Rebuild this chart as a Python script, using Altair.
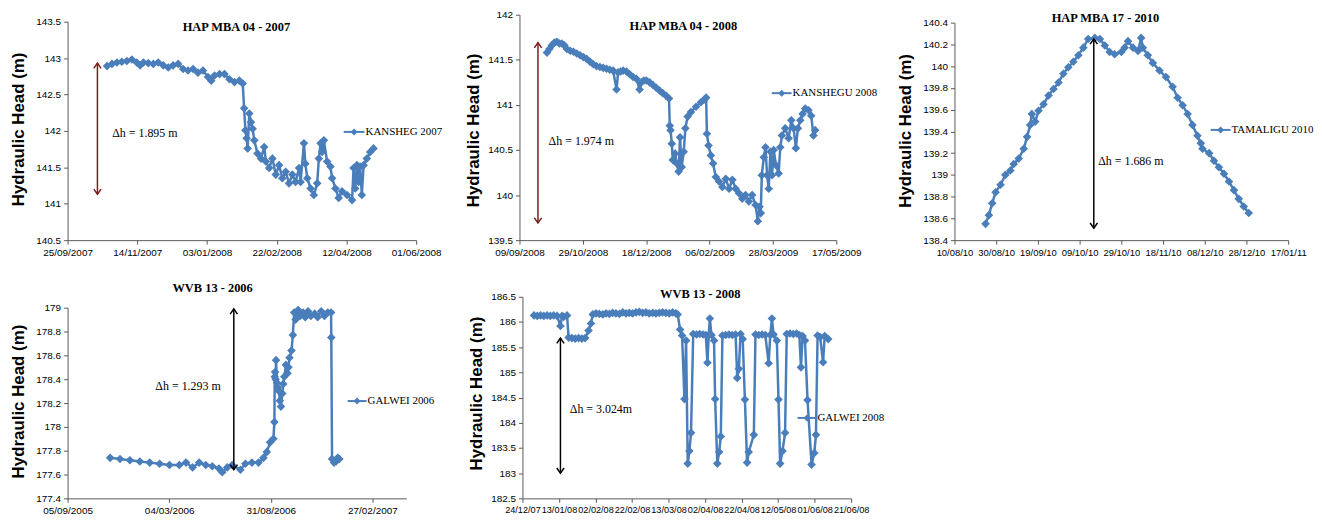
import altair as alt
import pandas as pd

BLUE = "#4A7EBB"
DARKRED = "#7A1E1E"
SERIF = "Liberation Serif"
SANS = "Liberation Sans"
YTITLE = "Hydraulic  Head (m)"

# ---------------- Panel 1: HAP MBA 04 - 2007 ----------------
p1_start, p1_end = "2007-09-25", "2008-06-01"
p1_ticks = ["2007-09-25", "2007-11-14", "2008-01-03", "2008-02-22", "2008-04-12", "2008-06-01"]
p1_yticks = [140.5, 141.0, 141.5, 142.0, 142.5, 143.0, 143.5]
p1_days = [28.3, 31.8, 35.4, 38.9, 42.5, 46.1, 49.6, 52.0, 54.4, 57.9, 61.5, 65.0, 68.6, 72.2, 75.7,
           79.3, 82.9, 86.4, 90.0, 93.5, 97.1, 100.7, 103.0, 105.4, 109.0, 112.5, 116.1, 119.7, 123.2,
           125.6, 126.6, 127.5, 128.4, 129.1, 130.3, 131.5, 132.7, 133.9, 136.2, 138.7, 141.0, 142.2,
           144.6, 146.9, 149.3, 151.7, 154.0, 156.4, 158.8, 161.2, 163.5, 166.0, 167.1, 169.5, 170.5,
           171.9, 174.3, 176.6, 179.0, 180.2, 181.4, 182.6, 183.8, 186.1, 188.5, 189.7, 192.1, 194.4,
           196.8, 200.4, 204.0, 205.1, 206.3, 207.5, 208.7, 209.8, 211.0, 212.3, 214.6, 217.0, 219.4]
p1_vals = [142.89, 142.92, 142.94, 142.95, 142.96, 142.98, 142.94, 142.90, 142.94, 142.93, 142.92, 142.94,
           142.90, 142.87, 142.90, 142.92, 142.85, 142.83, 142.85, 142.80, 142.83, 142.74, 142.69, 142.76,
           142.78, 142.78, 142.71, 142.67, 142.69, 142.65, 142.31, 142.01, 141.90, 141.76, 142.24, 142.12,
           142.03, 141.87, 141.69, 141.62, 141.78, 141.58, 141.49, 141.62, 141.40, 141.53, 141.35, 141.44,
           141.28, 141.40, 141.30, 141.49, 141.30, 141.83, 141.55, 141.35, 141.21, 141.12, 141.28, 141.62,
           141.83, 141.71, 141.87, 141.58, 141.51, 141.35, 141.21, 141.08, 141.17, 141.12, 141.05, 141.49,
           141.21, 141.53, 141.30, 141.51, 141.12, 141.53, 141.62, 141.71, 141.76]

# ---------------- Panel 2: HAP MBA 04 - 2008 ----------------
p2_start, p2_end = "2008-09-09", "2009-05-17"
p2_ticks = ["2008-09-09", "2008-10-29", "2008-12-18", "2009-02-06", "2009-03-28", "2009-05-17"]
p2_yticks = [139.5, 140.0, 140.5, 141.0, 141.5, 142.0]
p2_days = [21.7, 23.6, 25.6, 27.5, 29.5, 31.5, 33.4, 35.4, 37.4, 40.0, 42.6, 45.2, 47.8, 50.4, 53.0, 55.6,
           58.2, 60.8, 63.5, 66.1, 68.7, 71.3, 73.9, 76.6, 77.8, 79.8, 81.8, 84.4, 87.0, 89.6, 92.2, 94.8,
           96.2, 98.1, 100.1, 102.7, 105.3, 107.9, 110.5, 113.1, 115.8, 118.0, 118.6, 119.2, 120.2, 121.0,
           122.8, 124.1, 125.6, 126.7, 128.0, 129.6, 130.9, 132.7, 135.3, 139.3, 143.2, 145.8, 147.3, 147.9,
           149.2, 151.0, 152.8, 154.9, 157.5, 160.1, 162.8, 165.4, 168.0, 170.6, 173.2, 175.8, 178.4, 181.0,
           183.6, 186.3, 188.1, 189.4, 190.4, 191.2, 192.8, 194.1, 195.4, 196.7, 198.0, 199.3, 200.6, 202.4,
           204.5, 205.8, 207.1, 209.7, 212.4, 214.5, 216.3, 218.1, 219.7, 221.6, 223.4, 225.5, 228.1, 230.2,
           232.0, 233.3]
p2_vals = [141.58, 141.62, 141.66, 141.69, 141.70, 141.68, 141.68, 141.66, 141.62, 141.60, 141.59, 141.57,
           141.55, 141.53, 141.51, 141.48, 141.45, 141.43, 141.42, 141.41, 141.40, 141.39, 141.38, 141.17,
           141.36, 141.37, 141.38, 141.37, 141.34, 141.31, 141.29, 141.17, 141.25, 141.27, 141.27, 141.25,
           141.22, 141.19, 141.16, 141.13, 141.10, 141.07, 140.77, 140.72, 140.57, 140.39, 140.46, 140.35,
           140.26, 140.64, 140.31, 140.48, 140.74, 140.87, 140.92, 140.98, 141.03, 141.06, 141.08, 140.68,
           140.55, 140.44, 140.35, 140.20, 140.15, 140.09, 140.18, 140.07, 140.17, 140.07, 140.02, 139.96,
           140.00, 139.93, 140.00, 139.89, 139.71, 139.87, 139.80, 140.22, 140.42, 140.53, 140.22, 140.07,
           140.48, 140.22, 140.50, 140.33, 140.24, 140.53, 140.66, 140.74, 140.63, 140.83, 140.74, 140.52,
           140.74, 140.83, 140.90, 140.96, 140.94, 140.88, 140.66, 140.72]

# ---------------- Panel 3: HAP MBA 17 - 2010 ----------------
p3_start, p3_end = "2010-08-10", "2011-01-17"
p3_ticks = ["2010-08-10", "2010-08-30", "2010-09-19", "2010-10-09", "2010-10-29", "2010-11-18",
            "2010-12-08", "2010-12-28", "2011-01-17"]
p3_yticks = [138.4, 138.6, 138.8, 139.0, 139.2, 139.4, 139.6, 139.8, 140.0, 140.2, 140.4]
p3_days = [14.9, 16.5, 18.1, 19.7, 22.1, 24.4, 26.8, 28.4, 30.8, 33.2, 34.8, 36.3, 37.1, 38.7, 40.3, 42.7,
           45.1, 47.5, 49.9, 52.2, 54.6, 57.0, 59.4, 61.8, 64.1, 67.3, 69.7, 72.1, 74.4, 76.8, 80.0, 81.6,
           83.2, 85.6, 88.0, 89.5, 90.3, 92.7, 95.1, 98.3, 101.4, 104.6, 107.0, 109.4, 111.8, 114.1, 116.5,
           118.1, 118.9, 122.1, 124.4, 126.8, 129.2, 131.6, 134.0, 136.3, 138.7, 141.1]
p3_vals = [138.55, 138.63, 138.74, 138.84, 138.91, 139.00, 139.04, 139.10, 139.15, 139.24, 139.35, 139.46,
           139.56, 139.49, 139.59, 139.65, 139.73, 139.79, 139.85, 139.93, 139.99, 140.04, 140.10, 140.17,
           140.25, 140.26, 140.25, 140.19, 140.13, 140.11, 140.13, 140.17, 140.23, 140.17, 140.14, 140.26,
           140.17, 140.10, 140.03, 139.96, 139.90, 139.81, 139.71, 139.64, 139.56, 139.46, 139.36, 139.29,
           139.24, 139.20, 139.13, 139.07, 139.01, 138.94, 138.86, 138.78, 138.71, 138.65]

# ---------------- Panel 4: WVB 13 - 2006 ----------------
p4_start, p4_end = "2005-09-05", "2007-04-28"
p4_ticks = ["2005-09-05", "2006-03-04", "2006-08-31", "2007-02-27"]
p4_yticks = [177.4, 177.6, 177.8, 178.0, 178.2, 178.4, 178.6, 178.8, 179.0]
p4_days = [75.4, 92.9, 110.4, 128.0, 145.5, 163.0, 180.5, 198.0, 209.8, 221.4, 233.1, 244.8, 256.4, 268.2,
           274.0, 282.8, 291.5, 306.2, 315.0, 326.6, 338.3, 347.0, 352.9, 358.8, 364.6, 366.4, 367.0, 367.6,
           368.5, 369.3, 371.0, 372.5, 374.5, 376.0, 378.0, 380.4, 382.0, 383.9, 386.8, 389.6, 391.3, 393.1,
           396.7, 399.1, 401.4, 404.0, 408.4, 412.0, 417.2, 421.0, 426.0, 431.0, 437.7, 443.0, 449.3, 455.0,
           461.0, 466.8, 467.2, 468.5, 472.0, 475.6, 478.5, 481.5]
p4_vals = [177.74, 177.73, 177.72, 177.71, 177.70, 177.69, 177.68, 177.68, 177.70, 177.66, 177.70, 177.68,
           177.67, 177.65, 177.62, 177.66, 177.68, 177.64, 177.69, 177.70, 177.70, 177.74, 177.79, 177.87,
           177.90, 178.04, 178.42, 178.46, 178.40, 178.56, 178.37, 178.33, 178.30, 178.22, 178.17, 178.28,
           178.36, 178.42, 178.52, 178.45, 178.50, 178.58, 178.64, 178.77, 178.96, 178.90, 178.98, 178.93,
           178.96, 178.92, 178.97, 178.93, 178.95, 178.92, 178.97, 178.93, 178.96, 178.96, 178.75, 177.73,
           177.70, 177.71, 177.74, 177.73]

# ---------------- Panel 5: WVB 13 - 2008 ----------------
p5_start, p5_end = "2007-12-24", "2008-06-21"
p5_ticks = ["2007-12-24", "2008-01-13", "2008-02-02", "2008-02-22", "2008-03-13", "2008-04-02",
            "2008-04-22", "2008-05-12", "2008-06-01", "2008-06-21"]
p5_yticks = [182.5, 183.0, 183.5, 184.0, 184.5, 185.0, 185.5, 186.0, 186.5]
p5_days = [6.3, 8.1, 9.9, 11.7, 13.5, 15.3, 17.1, 19.0, 20.8, 21.7, 22.6, 24.4, 25.3, 27.1, 28.9, 30.7,
           32.5, 34.3, 36.2, 37.5, 38.5, 40.3, 42.1, 44.0, 45.8, 47.6, 49.4, 51.2, 53.1, 54.9, 56.7, 58.5,
           60.3, 62.2, 64.0, 65.8, 67.6, 69.4, 71.3, 73.1, 74.9, 76.7, 78.5, 80.4, 82.2, 84.0, 85.0, 86.3,
           87.4, 88.7, 89.6, 90.5, 91.4, 92.3, 93.5, 95.3, 97.1, 98.9, 100.4, 101.3, 102.0, 102.6, 103.5,
           104.9, 105.5, 106.7, 107.7, 108.6, 109.5, 111.3, 113.1, 114.9, 116.7, 117.6, 118.5, 119.4, 120.6,
           121.8, 123.0, 123.9, 126.7, 127.6, 129.4, 131.2, 133.0, 134.8, 135.7, 136.6, 137.5, 139.3, 140.2,
           141.1, 142.4, 143.8, 144.7, 146.5, 148.3, 150.1, 151.6, 152.5, 153.4, 154.7, 156.1, 158.3, 159.8,
           160.7, 161.6, 163.0, 164.6, 165.5, 167.4]
p5_vals = [186.13, 186.12, 186.13, 186.12, 186.13, 186.12, 186.13, 186.12, 185.92, 186.12, 186.10, 186.13,
           185.69, 185.68, 185.67, 185.68, 185.67, 185.68, 185.83, 185.97, 186.15, 186.17, 186.16, 186.15,
           186.17, 186.16, 186.18, 186.17, 186.16, 186.19, 186.17, 186.18, 186.17, 186.19, 186.20, 186.18,
           186.19, 186.17, 186.18, 186.17, 186.18, 186.19, 186.18, 186.17, 186.19, 186.17, 186.15, 185.85,
           185.73, 184.47, 185.63, 183.19, 183.44, 183.80, 185.76, 185.75, 185.76, 185.75, 185.74, 185.19,
           185.74, 186.07, 185.74, 185.63, 184.47, 183.19, 183.42, 183.73, 185.73, 185.74, 185.75, 185.74,
           185.75, 184.89, 185.07, 185.76, 185.66, 184.46, 183.21, 183.42, 183.76, 185.75, 185.74, 185.75,
           185.74, 185.18, 185.74, 186.07, 185.75, 185.63, 184.46, 183.19, 183.44, 183.80, 185.76, 185.77,
           185.76, 185.77, 185.74, 185.10, 185.72, 185.63, 184.45, 183.17, 183.40, 183.76, 185.73, 185.70,
           185.20, 185.72, 185.66]

UP = "M-0.7,1L0,0L0.7,1"
DOWN = "M-0.7,-1L0,0L0.7,-1"


def dt(s):
    ts = pd.Timestamp(s)
    return alt.DateTime(year=ts.year, month=ts.month, date=ts.day)


def panel(start, end, ticks, fmt, days, vals, yticks, xrange, yrange, W, H,
          title, title_xy, legend_label, legend_geom,
          arrow_day, arrow_top, arrow_bot, arrow_color,
          ann_day, ann_val, ann_text, ytitle_y, ytitle_x=-49, yoffset=0, xfs=10):
    t0 = pd.Timestamp(start)
    df = pd.DataFrame({"date": t0 + pd.to_timedelta(days, unit="D"), "value": vals})
    X = alt.X(
        "date:T",
        title=None,
        scale=alt.Scale(domain=[dt(start), dt(end)], range=xrange),
        axis=alt.Axis(values=[dt(t) for t in ticks], format=fmt, labelFont=SANS, labelFontSize=xfs,
                      labelColor="black", labelPadding=3, labelOverlap=False, labelFlush=False,
                      labelBound=False, tickSize=4, tickColor="#5a5a5a", domainColor="#5a5a5a",
                      grid=False),
    )
    Y = alt.Y(
        "value:Q",
        title=YTITLE,
        scale=alt.Scale(domain=[yticks[0], yticks[-1]], range=yrange, zero=False, nice=False),
        axis=alt.Axis(values=yticks, format="~g", labelFont=SANS, labelFontSize=10, labelColor="black",
                      labelPadding=3, tickSize=4, tickColor="#5a5a5a", domainColor="#5a5a5a", grid=False,
                      titleFont=SANS, titleFontSize=17, titleFontWeight="bold", titleColor="black",
                      titleAngle=270, titleBaseline="middle", titleX=ytitle_x, titleY=ytitle_y,
                      offset=yoffset),
    )
    line = alt.Chart(df).mark_line(color=BLUE, strokeWidth=2.5).encode(x=X, y=Y)
    pts = alt.Chart(df).mark_point(shape="diamond", filled=True, size=75, color=BLUE,
                                   opacity=1).encode(x=X, y=Y)

    ad = t0 + pd.Timedelta(days=arrow_day)
    arrow_df = pd.DataFrame({"date": [ad], "value": [arrow_top], "value2": [arrow_bot]})
    rule = alt.Chart(arrow_df).mark_rule(color=arrow_color, strokeWidth=1.5).encode(
        x=X, y=Y, y2="value2:Q")
    heads_df = pd.DataFrame({"date": [ad, ad], "value": [arrow_top, arrow_bot], "kind": ["up", "down"]})
    heads = alt.Chart(heads_df).mark_point(filled=False, size=110, strokeWidth=1.5, color=arrow_color,
                                           opacity=1).encode(
        x=X, y=Y,
        shape=alt.Shape("kind:N", scale=alt.Scale(domain=["up", "down"], range=[UP, DOWN]), legend=None))

    ann_df = pd.DataFrame({"date": [t0 + pd.Timedelta(days=ann_day)], "value": [ann_val], "label": [ann_text]})
    ann = alt.Chart(ann_df).mark_text(align="left", baseline="middle", font=SERIF, fontSize=12,
                                      color="black").encode(x=X, y=Y, text="label:N")

    tdf = pd.DataFrame({"t": [title]})
    ttl = alt.Chart(tdf).mark_text(font=SERIF, fontSize=12.5, fontWeight="bold", color="black",
                                   align="center", baseline="middle").encode(
        x=alt.value(title_xy[0]), y=alt.value(title_xy[1]), text="t:N")

    lx1, lx2, ly = legend_geom
    ldf = pd.DataFrame({"label": [legend_label]})
    lrule = alt.Chart(ldf).mark_rule(color=BLUE, strokeWidth=2).encode(
        x=alt.value(lx1), x2=alt.value(lx2), y=alt.value(ly))
    lpt = alt.Chart(ldf).mark_point(shape="diamond", filled=True, size=50, color=BLUE, opacity=1).encode(
        x=alt.value((lx1 + lx2) / 2), y=alt.value(ly))
    ltxt = alt.Chart(ldf).mark_text(align="left", baseline="middle", font=SERIF, fontSize=11,
                                    color="black").encode(
        x=alt.value(lx2 + 1), y=alt.value(ly), text="label:N")

    return alt.layer(line, pts, rule, heads, ann, ttl, lrule, lpt, ltxt).properties(width=W, height=H)


H1, H2 = 227, 203
W1, W2, W3 = 435, 418, 336

c1 = panel(p1_start, p1_end, p1_ticks, "%d/%m/%Y", p1_days, p1_vals, p1_yticks, [0, 351], [H1, 7], W1, H1,
           "HAP MBA 04 - 2007", (170, 12), "KANSHEG 2007", (278, 299, 118),
           21.4, 142.93, 141.13, DARKRED, 32.0, 141.97, "\u0394h = 1.895 m", 115)
c2 = panel(p2_start, p2_end, p2_ticks, "%d/%m/%Y", p2_days, p2_vals, p2_yticks, [0, 319], [H1, 0], W2, H1,
           "HAP MBA 04 - 2008", (165, 11), "KANSHEGU 2008", (254, 274, 79),
           14.6, 141.69, 139.69, DARKRED, 23.0, 140.60, "\u0394h = 1.974 m", 116, ytitle_x=-46)
c3 = panel(p3_start, p3_end, p3_ticks, "%d/%m/%y", p3_days, p3_vals, p3_yticks, [0, 336], [H1, 8], W3, H1,
           "HAP MBA 17 - 2010", (152, 3), "TAMALIGU 2010", (258, 278, 116),
           66.8, 140.25, 138.51, "black", 68.9, 139.13, "\u0394h = 1.686 m", 116.5, xfs=9.5)
c4 = panel(p4_start, p4_end, p4_ticks, "%d/%m/%Y", p4_days, p4_vals, p4_yticks, [0, 341], [H2, 11], W1, H2,
           "WVB 13 - 2006", (146, -9), "GALWEI 2006", (282, 301, 105),
           294.5, 178.99, 177.64, "black", 155.5, 178.34, "\u0394h = 1.293 m", 105)
c5 = panel(p5_start, p5_end, p5_ticks, "%d/%m/%y", p5_days, p5_vals, p5_yticks, [3, 334], [H2, 0], W2, H2,
           "WVB 13 - 2008", (182, -3), "GALWEI 2008", (280, 299, 122),
           20.8, 185.68, 183.0, "black", 25.9, 184.27, "\u0394h = 3.024m", 97, ytitle_x=-46, yoffset=-3,
           xfs=9.2)

chart = alt.concat(c1, c2, c3, c4, c5, columns=3, spacing={"row": 57, "column": 20},
                   bounds="flush").configure_view(stroke=None).properties(
    padding={"left": 2, "top": 0, "right": 0, "bottom": 0}, background="white")

chart.save("out.html", embed_options={"renderer": "svg", "actions": False})
